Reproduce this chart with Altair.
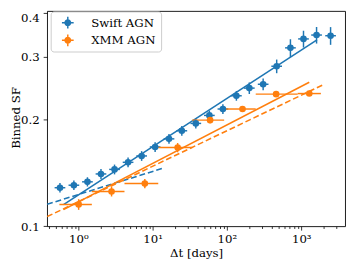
import altair as alt
import pandas as pd

BLUE = "#1f77b4"
ORANGE = "#ff7f0e"
FONT = "DejaVu Serif"

# Swift AGN binned structure function
swift_dt = [0.566, 0.871, 1.326, 2.017, 3.07, 4.67, 7.11, 10.8, 16.6, 24.7, 38.1,
            58.0, 88.2, 134, 200, 307, 467, 715, 1072, 1607, 2481]
swift_sf = [0.1284, 0.1305, 0.1334, 0.1404, 0.1446, 0.1514, 0.1578, 0.1673, 0.1763,
            0.1858, 0.1949, 0.2053, 0.214, 0.2332, 0.2451, 0.2513, 0.2825, 0.3183,
            0.3373, 0.3459, 0.3444]
swift_err = [0.004, 0.004, 0.004, 0.0045, 0.0046, 0.0048, 0.005, 0.0053, 0.0056,
             0.0059, 0.0062, 0.0065, 0.0068, 0.0074, 0.0092, 0.0095, 0.0125, 0.0183,
             0.0184, 0.0186, 0.0198]
swift_xerr_factor = 1.18

# XMM AGN binned structure function
xmm_dt = [1.01, 2.80, 7.85, 21.7, 59.3, 162, 459, 1282]
xmm_sf = [0.1152, 0.1253, 0.1319, 0.1666, 0.1991, 0.214, 0.2357, 0.2366]
xmm_err = [0.004, 0.004, 0.004, 0.005, 0.004, 0.004, 0.003, 0.003]
xmm_bin_lo = [0.556, 1.52, 4.18, 11.9, 34.1, 91.7, 244, 895]
xmm_bin_hi = [1.52, 4.18, 11.9, 34.1, 91.7, 244, 895, 1837]

# fitted models (end points)
swift_fit_dt = [0.632, 1629]
swift_fit_sf = [0.1150, 0.3353]
swift_dash_dt = [0.38, 13.87]
swift_dash_sf = [0.1153, 0.1458]
xmm_fit_dt = [0.632, 1282]
xmm_fit_sf = [0.1114, 0.2545]
xmm_dash_dt = [0.38, 1951]
xmm_dash_sf = [0.1064, 0.2502]

x_major = [1, 10, 100, 1000]
x_minor = [0.4, 0.5, 0.6, 0.7, 0.8, 0.9, 2, 3, 4, 5, 6, 7, 8, 9,
           20, 30, 40, 50, 60, 70, 80, 90, 200, 300, 400, 500, 600, 700, 800, 900,
           2000, 3000]
y_ticks = [0.1, 0.2, 0.3, 0.4]
x_domain = [0.3797, 3890]
y_domain = [0.1, 0.4044]

swift_df = pd.DataFrame({
    "dt": swift_dt, "sf": swift_sf,
    "lo": [s - e for s, e in zip(swift_sf, swift_err)],
    "hi": [s + e for s, e in zip(swift_sf, swift_err)],
    "dtlo": [d / swift_xerr_factor for d in swift_dt],
    "dthi": [d * swift_xerr_factor for d in swift_dt],
    "series": "Swift AGN",
})
xmm_df = pd.DataFrame({
    "dt": xmm_dt, "sf": xmm_sf,
    "lo": [s - e for s, e in zip(xmm_sf, xmm_err)],
    "hi": [s + e for s, e in zip(xmm_sf, xmm_err)],
    "dtlo": xmm_bin_lo, "dthi": xmm_bin_hi,
    "series": "XMM AGN",
})
pts_df = pd.concat([swift_df, xmm_df], ignore_index=True)

W, H = 305, 220.3

major_test = " || ".join(f"datum.value == {v}" for v in x_major)
x_axis = alt.Axis(
    values=x_major + x_minor,
    title="Δt [days]",
    labelExpr="datum.value == 1 ? '10⁰' : datum.value == 10 ? '10¹' : "
              "datum.value == 100 ? '10²' : datum.value == 1000 ? '10³' : ''",
    tickSize={"condition": {"test": major_test, "value": 4}, "value": 2.3},
    labelOverlap=False,
    labelPadding=4,
    labelFlush=False,
    titleX=W / 2,
    titleY=31,
    titleBaseline="alphabetic",
    titleAnchor="middle",
)
y_axis = alt.Axis(
    values=y_ticks,
    format=".1f",
    title="Binned SF",
    tickSize=4,
    labelPadding=4,
    labelFlush=False,
    labelOverlap=False,
    labelBaseline={"condition": {"test": "datum.value == 0.4", "value": "top"},
                   "value": "middle"},
    titleX=-28,
    titleY=109,
    titleAngle=270,
    titleBaseline="alphabetic",
    titleAnchor="middle",
)
xs = alt.Scale(type="log", domain=x_domain, nice=False)
ys = alt.Scale(type="log", domain=y_domain, nice=False)


def line_layer(dts, sfs, color, dash):
    df = pd.DataFrame({"dt": dts, "sf": sfs})
    kw = {"strokeDash": [6, 3]} if dash else {}
    return alt.Chart(df).mark_line(color=color, strokeWidth=1.6, clip=True, **kw).encode(
        x=alt.X("dt:Q", scale=xs, axis=x_axis),
        y=alt.Y("sf:Q", scale=ys, axis=y_axis),
    )


def vbars(df, color):
    return alt.Chart(df).mark_rule(color=color, strokeWidth=1.5).encode(
        x=alt.X("dt:Q", scale=xs, axis=x_axis),
        y=alt.Y("lo:Q", scale=ys, axis=y_axis),
        y2="hi:Q",
    )


def hbars(df, color):
    return alt.Chart(df).mark_rule(color=color, strokeWidth=1.5).encode(
        x=alt.X("dtlo:Q", scale=xs, axis=x_axis),
        x2="dthi:Q",
        y=alt.Y("sf:Q", scale=ys, axis=y_axis),
    )


legend_symbol = ("M0.6,0 A0.6,0.6 0 1,1 -0.6,0 A0.6,0.6 0 1,1 0.6,0 Z "
                 "M-1,-0.125 H1 V0.125 H-1 Z M-0.125,-1 H0.125 V1 H-0.125 Z")

points = alt.Chart(pts_df).mark_circle(opacity=1, size=46).encode(
    x=alt.X("dt:Q", scale=xs, axis=x_axis),
    y=alt.Y("sf:Q", scale=ys, axis=y_axis),
    color=alt.Color(
        "series:N",
        scale=alt.Scale(domain=["Swift AGN", "XMM AGN"], range=[BLUE, ORANGE]),
        legend=alt.Legend(
            title=None, orient="none", legendX=3.7, legendY=0.5,
            symbolType=legend_symbol, symbolSize=144, symbolStrokeWidth=0,
            symbolOffset=6, labelOffset=18, rowPadding=6, padding=5.5,
            labelFont=FONT, labelFontSize=12, labelColor="black",
            strokeColor="#cccccc", fillColor="rgba(255,255,255,0.8)",
            cornerRadius=3,
        ),
    ),
)

chart = alt.layer(
    line_layer(swift_fit_dt, swift_fit_sf, BLUE, False),
    line_layer(swift_dash_dt, swift_dash_sf, BLUE, True),
    line_layer(xmm_fit_dt, xmm_fit_sf, ORANGE, False),
    line_layer(xmm_dash_dt, xmm_dash_sf, ORANGE, True),
    vbars(swift_df, BLUE),
    hbars(swift_df, BLUE),
    vbars(xmm_df, ORANGE),
    hbars(xmm_df, ORANGE),
    points,
).properties(
    width=W, height=H,
    autosize=alt.AutoSizeParams(type="none"),
    padding={"left": 40, "top": 0, "right": 4, "bottom": 39},
).configure_view(
    stroke="black", strokeWidth=0.9,
).configure_axis(
    labelFont=FONT, labelFontSize=12, labelColor="black",
    titleFont=FONT, titleFontSize=12, titleFontWeight="normal", titleColor="black",
    tickColor="black", tickWidth=0.8, domain=False, grid=False,
)

chart.save("out.html", embed_options={"renderer": "svg", "actions": False})
